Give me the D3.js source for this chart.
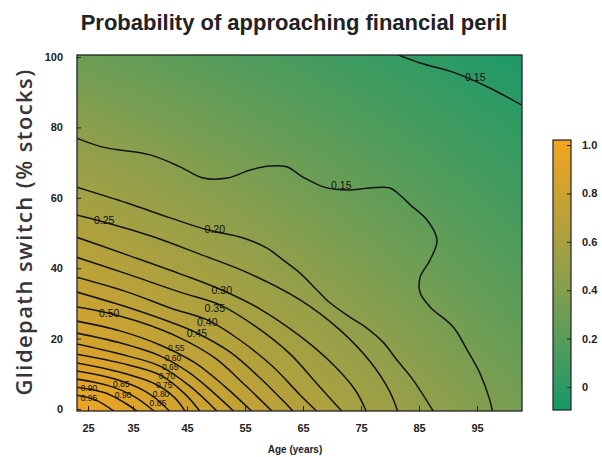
<!DOCTYPE html>
<html><head><meta charset="utf-8">
<script src="https://cdn.jsdelivr.net/npm/d3@7"></script>
<style>body{margin:0;background:#fff;} svg{display:block;}</style>
</head><body><svg id="chart" width="602" height="457"></svg>
<script>
// ================= DATA =================
const titleText = "Probability of approaching financial peril";
const yTitle = "Glidepath switch (% stocks)";
const xTitle = "Age (years)";
const ageTicks = [25, 35, 45, 55, 65, 75, 85, 95];
const stockTicks = [0, 20, 40, 60, 80, 100];
const colorTicks = [0, 0.2, 0.4, 0.6, 0.8, 1.0];
// background shading values (colour-bar units) at plot corners
const fillBottom = [1.0, 0.34];   // left, right  (0 % stocks)
const fillTop = [0.30, -0.06];    // left, right  (100 % stocks)
// contour lines: level and [age, % stocks] points
const contourLevels = [0.15, 0.15, 0.20, 0.25, 0.30, 0.35, 0.40, 0.45, 0.50, 0.55, 0.60, 0.65, 0.70, 0.75, 0.80, 0.85, 0.90, 0.95];
const contourPaths = [
  [[80.5,101.2],[85.2,98.3],[91.2,95.5],[97.2,91.2],[103.5,85.6]],
  [[22.0,77.2],[28.3,74.4],[38.2,72.2],[43.7,68.8],[47.8,65.6],[51.9,65.6],[55.9,67.9],[59.3,69.0],[62.2,68.8],[65.0,65.9],[68.5,63.1],[72.6,62.2],[76.6,62.8],[80.0,62.8],[81.7,60.8],[83.5,58.0],[86.4,53.7],[88.1,48.0],[86.9,42.3],[85.2,37.5],[85.2,33.0],[86.9,29.0],[90.9,23.3],[93.3,16.8],[95.5,10.2],[97.2,2.6],[97.7,-1.0]],
  [[22.0,63.2],[33.7,58.5],[41.9,54.3],[48.5,50.9],[54.7,48.6],[58.8,45.7],[61.6,42.3],[64.5,38.6],[67.4,33.8],[69.7,30.1],[73.1,26.1],[76.0,23.0],[78.8,19.0],[81.2,13.9],[84.0,8.2],[87.6,-1.0]],
  [[22.0,55.3],[27.7,53.4],[38.2,49.2],[47.2,44.0],[55.9,38.4],[64.5,31.0],[71.4,22.4],[76.6,13.4],[80.0,4.8],[81.4,-1.0]],
  [[22.0,49.0],[34.3,43.5],[43.7,38.4],[51.0,33.8],[57.6,28.4],[64.5,20.7],[69.7,13.4],[74.0,5.4],[76.0,-1.0]],
  [[22.0,43.3],[34.3,38.1],[43.7,33.2],[50.7,29.6],[56.7,23.6],[62.8,15.6],[67.6,6.8],[71.9,-1.0]],
  [[22.0,37.6],[34.3,33.0],[41.9,28.7],[48.5,25.3],[54.1,19.6],[59.7,12.2],[64.5,4.0],[67.6,-1.0]],
  [[22.0,33.4],[34.3,28.7],[41.9,24.7],[46.7,21.6],[52.4,16.2],[57.6,8.8],[61.4,2.6],[63.5,-1.0]],
  [[22.0,29.1],[27.7,27.8],[36.3,24.7],[43.7,20.2],[49.8,14.5],[55.0,6.8],[59.9,-1.0]],
  [[22.0,25.1],[32.1,22.2],[40.0,18.2],[46.4,13.1],[51.6,6.3],[56.4,-1.0]],
  [[22.0,21.7],[32.1,18.8],[40.0,15.1],[45.5,10.2],[49.8,4.3],[53.3,-1.0]],
  [[22.0,18.6],[32.1,15.6],[40.0,12.2],[45.5,6.5],[50.4,-1.0]],
  [[22.0,15.7],[32.1,13.1],[40.0,9.7],[44.6,4.3],[47.4,-1.0]],
  [[22.0,13.2],[31.0,10.8],[39.1,7.1],[42.8,3.1],[44.8,-1.0]],
  [[22.0,10.9],[31.0,8.5],[37.2,5.1],[40.0,2.0],[42.0,-1.0]],
  [[22.0,8.6],[29.9,6.5],[35.4,3.4],[39.2,-1.0]],
  [[22.0,6.3],[28.8,4.6],[33.2,1.7],[36.1,-1.0]],
  [[22.0,4.0],[26.6,2.6],[31.2,-1.0]]
];
// contour labels
const labelTexts  = ["0.15","0.15","0.20","0.25","0.30","0.35","0.40","0.45","0.50","0.55","0.60","0.65","0.70","0.75","0.80","0.85","0.85","0.90","0.90","0.95"];
const labelAges   = [94.7, 71.6, 49.8, 28.6, 51.0, 49.8, 48.5, 46.7, 29.7, 43.0, 42.4, 41.9, 41.3, 40.8, 40.2, 39.6, 32.4, 32.8, 25.2, 25.2];
const labelStocks = [94.3, 63.6, 51.0, 53.7, 33.8, 28.7, 24.7, 21.6, 27.3, 17.2, 14.6, 12.0, 9.4, 6.8, 4.2, 1.6, 7.0, 4.1, 6.0, 3.1];

// ================= LAYOUT =================
const plot = {left: 77, right: 522, top: 55, bottom: 411};
const svg = d3.select("#chart");
const x = d3.scaleLinear().domain([25, 35, 45, 95]).range([88, 133, 187, 477]);
const y = d3.scaleLinear().domain([0, 100]).range([409, 57]);
const color = d3.scaleLinear().domain([-0.1, 0.45, 1.05]).range(["#15996a", "#8e9f4c", "#f8a51e"]).clamp(true);

const tickFont = "'Liberation Sans Narrow','Liberation Sans',Arial,sans-serif";

// ---- background shading (bilinear between corners) ----
const W = plot.right - plot.left, H = plot.bottom - plot.top;
const cv = document.createElement("canvas");
cv.width = W; cv.height = H;
const ctx = cv.getContext("2d");
const img = ctx.createImageData(W, H);
for (let j = 0; j < H; j++) {
  const v = 1 - (j + 0.5) / H;
  for (let i = 0; i < W; i++) {
    const u = (i + 0.5) / W;
    const val = fillBottom[0] * (1 - u) * (1 - v) + fillBottom[1] * u * (1 - v) + fillTop[0] * (1 - u) * v + fillTop[1] * u * v;
    const c = d3.rgb(color(val));
    const k = (j * W + i) * 4;
    img.data[k] = c.r; img.data[k + 1] = c.g; img.data[k + 2] = c.b; img.data[k + 3] = 255;
  }
}
ctx.putImageData(img, 0, 0);
svg.append("image").attr("x", plot.left).attr("y", plot.top).attr("width", W).attr("height", H)
  .attr("href", cv.toDataURL());

// ---- clip ----
svg.append("defs").append("clipPath").attr("id", "clip")
  .append("rect").attr("x", plot.left).attr("y", plot.top).attr("width", W).attr("height", H);

// ---- contour lines ----
const line = d3.line().x(d => x(d[0])).y(d => y(d[1])).curve(d3.curveCatmullRom.alpha(0.5));
svg.append("g").attr("clip-path", "url(#clip)")
  .selectAll("path").data(contourPaths).join("path")
  .attr("d", line).attr("fill", "none").attr("stroke", "#141414").attr("stroke-width", 1.5);

// ---- contour labels ----
svg.append("g").selectAll("text").data(labelTexts).join("text")
  .attr("x", (d, i) => x(labelAges[i])).attr("y", (d, i) => y(labelStocks[i]))
  .attr("text-anchor", "middle").attr("dominant-baseline", "central")
  .style("font-family", tickFont).style("font-size", (d, i) => i > 8 ? "8.5px" : "10.5px").attr("fill", "#111")
  .text(d => d);

// ---- frame ----
svg.append("rect").attr("x", plot.left).attr("y", plot.top).attr("width", W).attr("height", H)
  .attr("fill", "none").attr("stroke", "#222").attr("stroke-width", 1.3);

// ---- axes ----
const gx = svg.append("g").attr("transform", `translate(0,${plot.bottom})`)
  .call(d3.axisBottom(x).tickValues(ageTicks).tickSize(-5).tickPadding(13).tickFormat(d3.format("d")));
const gy = svg.append("g").attr("transform", `translate(${plot.left},0)`)
  .call(d3.axisLeft(y).tickValues(stockTicks).tickSize(-4).tickPadding(14).tickFormat(d3.format("d")));
[gx, gy].forEach(g => {
  g.select(".domain").remove();
  g.selectAll(".tick line").attr("stroke", "#222").attr("stroke-width", 1);
  g.selectAll(".tick text").style("font-family", tickFont).style("font-size", "11px")
    .style("font-weight", "bold").attr("fill", "#222");
});

// ---- axis titles ----
svg.append("text").attr("x", 295).attr("y", 453).attr("text-anchor", "middle")
  .style("font-family", tickFont).style("font-size", "10px").style("font-weight", "bold").attr("fill", "#222")
  .text(xTitle);
svg.append("text").attr("transform", "translate(32,232) rotate(-90)").attr("text-anchor", "middle")
  .style("font-family", "'Open Sans',Arial,sans-serif").style("font-size", "22px").style("font-weight", "600")
  .style("letter-spacing", "1.4px").attr("fill", "#363636").text(yTitle);

// ---- title ----
svg.append("text").attr("x", 294).attr("y", 30).attr("text-anchor", "middle")
  .style("font-family", "'Liberation Sans',Arial,sans-serif").style("font-size", "22px").style("font-weight", "bold")
  .attr("fill", "#222").text(titleText);

// ---- colour bar ----
const cb = {x: 553, w: 18, top: 140, bottom: 410};
const cy = d3.scaleLinear().domain([0, 1]).range([387, 145]);
const grad = svg.select("defs").append("linearGradient").attr("id", "cbgrad")
  .attr("x1", 0).attr("y1", 1).attr("x2", 0).attr("y2", 0);
const vLo = cy.invert(cb.bottom), vHi = cy.invert(cb.top);
d3.range(0, 1.0001, 0.05).forEach(t => {
  grad.append("stop").attr("offset", t).attr("stop-color", color(vLo + t * (vHi - vLo)));
});
svg.append("rect").attr("x", cb.x).attr("y", cb.top).attr("width", cb.w).attr("height", cb.bottom - cb.top)
  .attr("fill", "url(#cbgrad)").attr("stroke", "#222").attr("stroke-width", 1.2);
const gc = svg.append("g").attr("transform", `translate(${cb.x + cb.w},0)`)
  .call(d3.axisRight(cy).tickValues(colorTicks).tickSize(-4).tickPadding(11)
    .tickFormat(d => d === 0 ? "0" : d3.format(".1f")(d)));
gc.select(".domain").remove();
gc.selectAll(".tick line").attr("stroke", "#222");
gc.selectAll(".tick text").style("font-family", tickFont).style("font-size", "11px")
  .style("font-weight", "bold").attr("fill", "#222");
</script></body></html>
